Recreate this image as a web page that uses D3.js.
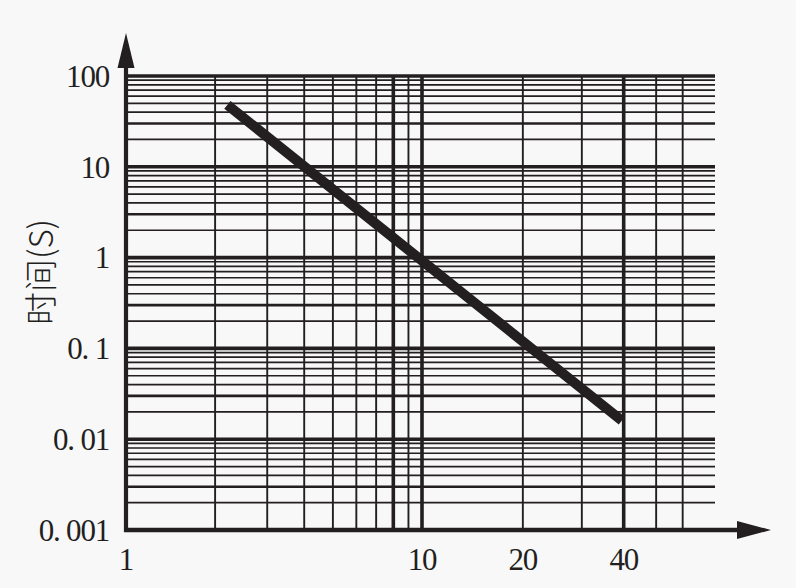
<!DOCTYPE html>
<html>
<head>
<meta charset="utf-8">
<script src="https://cdn.jsdelivr.net/npm/d3@7/dist/d3.min.js"></script>
<style>
  html, body { margin: 0; padding: 0; background: #f8f8f8; }
  svg { display: block; }
</style>
</head>
<body>
<svg id="chart" width="796" height="588"></svg>
<script>
// ---- data ----
const yTickValues = [0.001, 0.01, 0.1, 1, 10, 100];
const yTickLabels = ["0. 001", "0. 01", "0. 1", "1", "10", "100"];
const xTickValues = [1, 10, 20, 40];
const xTickLabels = ["1", "10", "20", "40"];
const xGridValues = [2, 3, 4, 5, 6, 7, 8, 9, 10, 20, 30, 40, 50, 60];
const xHeavyValues = [8, 10, 40];
const curveX = [2.2, 39.5];
const curveY = [48, 0.016];
const yAxisTitle = "时间(S)";

// ---- layout ----
const W = 796, H = 588;
const plot = { left: 126, right: 715, top: 76, bottom: 530 };
const ink = "#231f20";

const svg = d3.select("#chart");
svg.append("rect").attr("width", W).attr("height", H).attr("fill", "#f8f8f8");

const x = d3.scaleLog().domain([1, 10, 100]).range([plot.left, plot.left + 296, plot.left + 631]);
const y = d3.scaleLog().domain([0.001, 100]).range([plot.bottom, plot.top]);

// horizontal grid lines (log ticks)
const yGrid = y.ticks();
const g = svg.append("g");
g.selectAll("line.h").data(yGrid).join("line")
  .attr("class", "h")
  .attr("x1", plot.left).attr("x2", plot.right)
  .attr("y1", d => y(d)).attr("y2", d => y(d))
  .attr("stroke", ink)
  .attr("stroke-width", d => {
    const m = Math.round(d / Math.pow(10, Math.floor(Math.log10(d) + 1e-9)));
    if (m === 1) return 3.6;
    if (m === 3) return 2.6;
    return 1.7;
  });

// vertical grid lines
g.selectAll("line.v").data(xGridValues).join("line")
  .attr("class", "v")
  .attr("x1", d => x(d)).attr("x2", d => x(d))
  .attr("y1", plot.top).attr("y2", plot.bottom)
  .attr("stroke", ink)
  .attr("stroke-width", d => xHeavyValues.includes(d) ? 3.6 : 1.9);

// axes
svg.append("line")
  .attr("x1", plot.left).attr("x2", plot.left)
  .attr("y1", plot.bottom + 2).attr("y2", 66)
  .attr("stroke", ink).attr("stroke-width", 4.2);
svg.append("line")
  .attr("x1", plot.left - 2).attr("x2", 740)
  .attr("y1", plot.bottom).attr("y2", plot.bottom)
  .attr("stroke", ink).attr("stroke-width", 4.5);

// arrows
svg.append("path")
  .attr("d", `M${plot.left},33 L${plot.left + 8.5},68 L${plot.left - 8.5},68 Z`)
  .attr("fill", ink);
svg.append("path")
  .attr("d", `M771,${plot.bottom} L737,${plot.bottom - 9} L737,${plot.bottom + 9} Z`)
  .attr("fill", ink);

// data line
const pts = curveX.map((v, i) => [v, curveY[i]]);
svg.append("path")
  .datum(pts)
  .attr("d", d3.line().x(d => x(d[0])).y(d => y(d[1])))
  .attr("fill", "none")
  .attr("stroke", ink)
  .attr("stroke-width", 10)
  .attr("stroke-linecap", "butt");

// y tick labels
const fontSerif = "'Liberation Serif', 'DejaVu Serif', serif";
svg.append("g").selectAll("text").data(yTickValues).join("text")
  .attr("x", 109)
  .attr("y", d => y(d))
  .attr("dy", "0.35em")
  .attr("text-anchor", "end")
  .attr("font-family", fontSerif)
  .attr("font-size", 31)
  .attr("letter-spacing", -1.2)
  .attr("fill", ink)
  .text((d, i) => yTickLabels[i]);

// x tick labels
svg.append("g").selectAll("text").data(xTickValues).join("text")
  .attr("x", d => x(d))
  .attr("y", 570)
  .attr("text-anchor", "middle")
  .attr("font-family", fontSerif)
  .attr("font-size", 31)
  .attr("letter-spacing", -1.2)
  .attr("fill", ink)
  .text((d, i) => xTickLabels[i]);

// y axis title
svg.append("text")
  .attr("transform", "translate(53,272) rotate(-90)")
  .attr("text-anchor", "middle")
  .attr("font-family", "'Noto Sans CJK SC', sans-serif")
  .attr("font-weight", 300)
  .attr("font-size", 33)
  .attr("fill", ink)
  .text(yAxisTitle);
</script>
</body>
</html>
